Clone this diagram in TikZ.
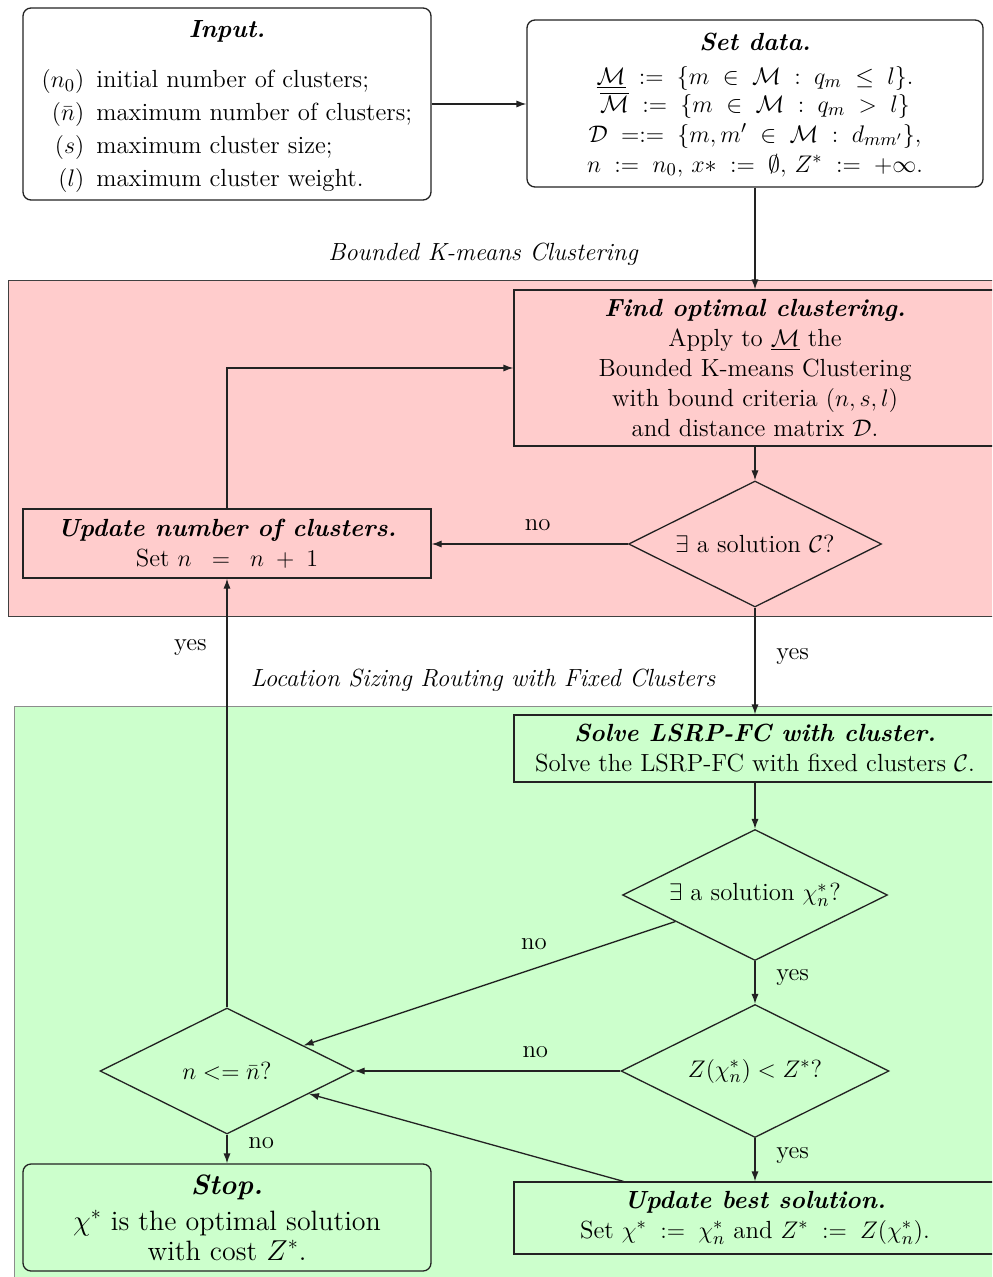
\documentclass[tikz,border=0pt]{standalone}
\usetikzlibrary{shapes.geometric,arrows.meta}
\definecolor{pinkbg}{HTML}{FFCCCC}
\definecolor{greenbg}{HTML}{CCFFCC}
\definecolor{ln}{HTML}{222222}
\newcommand{\bi}[1]{\textbf{\textit{#1}}}
\begin{document}
\begin{tikzpicture}[x=0.5pt,y=-0.5pt,
  font=\fontsize{12.4}{15}\selectfont,
  box/.style={draw=ln, line width=0.65pt, inner sep=0pt, align=center},
  rbox/.style={box, rounded corners=4pt},
  dia/.style={draw=ln, line width=0.65pt, shape=diamond, shape aspect=2, inner sep=0pt, align=center},
  arr/.style={draw=ln, line width=0.65pt, -{Latex[length=5pt,width=3.6pt]}},
  region/.style={line width=0.4pt},
  lbl/.style={font=\fontsize{12.4}{15}\selectfont\itshape}]
\clip (0,0) rectangle (992,1277);
% regions
\draw[region, draw=black!75, fill=pinkbg] (8,280) rectangle (1010,616);
\draw[region, draw=black!45, fill=greenbg] (14,706) rectangle (1010,1300);
\node[lbl] (lab1) at (483,254) {Bounded K-means Clustering};
\node[lbl] (lab2) at (483,680) {Location Sizing Routing with Fixed Clusters};
% nodes
\node[rbox, minimum width=204pt, minimum height=96pt] (in) at (227,104)
  {\rule{0pt}{13pt}\bi{Input.}\\[10pt]
   \def\arraystretch{1.1}\begin{tabular}{@{}r@{\hspace{6pt}}l@{}}
   $(n_0)$ & initial number of clusters;\\
   $(\bar{n})$ & maximum number of clusters;\\
   $(s)$ & maximum cluster size;\\
   $(l)$ & maximum cluster weight.
   \end{tabular}};
\node[rbox, minimum width=228pt, minimum height=83.5pt] (sd) at (755,103.5)
  {\rule{0pt}{10pt}\bi{Set data.}\\[2pt]
   $\underline{\mathcal{M}} \;:=\; \{m \;\in\; \mathcal{M} \;:\; q_m \;\le\; l\}.$\\[-1pt]
   $\overline{\mathcal{M}} \;:=\; \{m \;\in\; \mathcal{M} \;:\; q_m \;>\; l\}$\\
   $\mathcal{D} \;=:=\; \{m, m' \;\in\; \mathcal{M} \;:\; d_{mm'}\},$\\
   $n \;:=\; n_0,\, x* \;:=\; \emptyset,\, Z^* \;:=\; +\infty.$};
\node[box, fill=pinkbg, minimum width=241pt, minimum height=78pt] (fo) at (755,368)
  {\bi{Find optimal clustering.}\\
   Apply to $\underline{\mathcal{M}}$ the\\
   Bounded K-means Clustering\\
   with bound criteria $(n,s,l)$\\
   and distance matrix $\mathcal{D}$.};
\node[dia, fill=pinkbg, minimum width=126.5pt, minimum height=63pt] (d1) at (755,544)
  {$\exists$ a solution $\mathcal{C}$?};
\node[box, fill=pinkbg, minimum width=204pt, minimum height=34.5pt] (un) at (227,543.5)
  {\bi{Update number of clusters.}\\
   Set $n \;\;=\;\; n \;+\; 1$};
\node[box, fill=greenbg, minimum width=241pt, minimum height=33.5pt] (so) at (755,748.5)
  {\bi{Solve LSRP-FC with cluster.}\\
   Solve the LSRP-FC with fixed clusters $\mathcal{C}$.};
\node[dia, fill=greenbg, minimum width=132.5pt, minimum height=65.5pt] (d2) at (755,895)
  {$\exists$ a solution $\chi^*_n$?};
\node[dia, fill=greenbg, minimum width=134pt, minimum height=66.5pt] (d3) at (755,1071)
  {$Z(\chi^*_n) < Z^*$?};
\node[dia, fill=greenbg, minimum width=127pt, minimum height=63pt] (d4) at (227,1071)
  {$n <= \bar{n}$?};
\node[box, fill=greenbg, minimum width=241pt, minimum height=36pt] (ub) at (755,1218)
  {\bi{Update best solution.}\\
   Set $\chi^* \;:=\; \chi^*_n$ and $Z^* \;:=\; Z(\chi^*_n)$.};
\node[rbox, fill=greenbg, minimum width=204pt, minimum height=53.5pt,
      font=\fontsize{14}{15}\selectfont] (st) at (227,1217.5)
  {\bi{Stop.}\\[3pt]
   $\chi^*$ is the optimal solution\\ with cost $Z^*$.};
% connectors
\draw[arr] (in.east) -- (sd.west |- in.east);
\draw[arr] (sd) -- (fo);
\draw[arr] (fo) -- (d1);
\draw[arr] (d1.west) -- node[pos=.46, above=3pt] {no} (un.east |- d1.west);
\draw[arr] (un.north) |- (fo.west);
\draw[arr] (d4) -- node[pos=.84, left=6.5pt] {yes} (un);
\draw[arr] (d1) -- node[pos=.46, right=7pt] {yes} (so);
\draw[arr] (so) -- (d2);
\draw[arr] (d2) -- node[pos=.38, above=6pt] {no} (d4);
\draw[arr] (d2) -- node[pos=.39, right=7pt] {yes} (d3);
\draw[arr] (d3) -- node[pos=.32, above=3pt] {no} (d4);
\draw[arr] (d3) -- node[pos=.39, right=7pt] {yes} (ub);
\draw[arr] (ub) -- (d4);
\draw[arr] (d4) -- node[pos=.3, right=7pt] {no} (st);
\end{tikzpicture}
\end{document}
